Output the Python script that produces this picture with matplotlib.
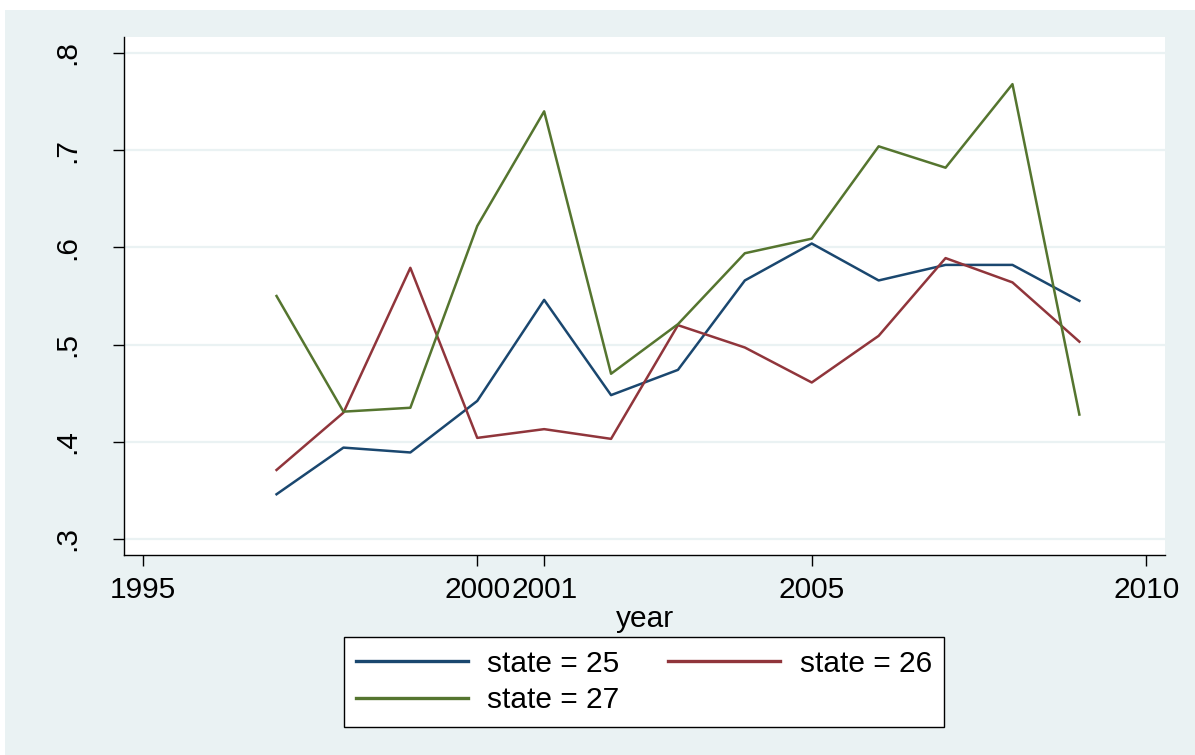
import numpy as np
import matplotlib.pyplot as plt
from matplotlib.patches import Rectangle

plt.rcParams['font.family'] = ['Liberation Sans', 'DejaVu Sans']

years = [1997, 1998, 1999, 2000, 2001, 2002, 2003, 2004, 2005, 2006, 2007, 2008, 2009]
state_25 = [0.346, 0.394, 0.389, 0.442, 0.546, 0.448, 0.474, 0.566, 0.604, 0.566, 0.582, 0.582, 0.545]
state_26 = [0.371, 0.430, 0.579, 0.404, 0.413, 0.403, 0.520, 0.497, 0.461, 0.509, 0.589, 0.564, 0.503]
state_27 = [0.550, 0.431, 0.435, 0.622, 0.740, 0.470, 0.521, 0.594, 0.609, 0.704, 0.682, 0.768, 0.428]

x_ticks = [1995, 2000, 2001, 2005, 2010]
y_ticks = [0.3, 0.4, 0.5, 0.6, 0.7, 0.8]
y_ticklabels = ['.3', '.4', '.5', '.6', '.7', '.8']

bg = '#EAF2F3'
W, H = 1195, 755
fs = 21.5

fig = plt.figure(figsize=(W / 100, H / 100), dpi=100)
fig.patch.set_facecolor('white')
fig.patches.append(Rectangle((5 / W, 0), 1 - 5 / W, 1 - 10 / H,
                             transform=fig.transFigure, facecolor=bg,
                             edgecolor='none', zorder=-10))

ax = fig.add_axes([124 / W, 1 - 555 / H, (1165 - 124) / W, (555 - 37) / H])
ax.set_facecolor('white')

l25, = ax.plot(years, state_25, color='#1A476F', lw=1.8, label='state = 25')
l26, = ax.plot(years, state_26, color='#90353B', lw=1.8, label='state = 26')
l27, = ax.plot(years, state_27, color='#55752F', lw=1.8, label='state = 27')

ax.set_xlim(1994.72, 2010.28)
ax.set_ylim(0.2835, 0.8165)

ax.set_xticks(x_ticks)
ax.set_xticklabels([str(v) for v in x_ticks])
ax.set_yticks(y_ticks)
ax.set_yticklabels(y_ticklabels, rotation=90, va='center')

# light horizontal grid at the y ticks only
for v in y_ticks:
    ax.axhline(v, color=bg, lw=1.6, zorder=0)

for s in ['top', 'right']:
    ax.spines[s].set_visible(False)
for s in ['left', 'bottom']:
    ax.spines[s].set_linewidth(1.0)
    ax.spines[s].set_color('black')

ax.tick_params(axis='both', direction='out', length=8, width=1.0, labelsize=fs)
ax.tick_params(axis='y', pad=23)
ax.tick_params(axis='x', pad=7)
ax.set_xlabel('year', fontsize=fs, labelpad=1)

leg = fig.legend([l25, l27, l26], ['state = 25', 'state = 27', 'state = 26'],
                 ncol=2, loc='center', bbox_to_anchor=(644 / W, 1 - 682 / H),
                 fontsize=fs, frameon=True, fancybox=False, framealpha=1,
                 handlelength=3.75, handletextpad=0.64, columnspacing=1.64,
                 borderpad=0.42, labelspacing=0.28)
leg.get_frame().set_edgecolor('black')
leg.get_frame().set_linewidth(1.0)
for ln in leg.get_lines():
    ln.set_linewidth(2.4)

fig.savefig('out.png', dpi=100)
